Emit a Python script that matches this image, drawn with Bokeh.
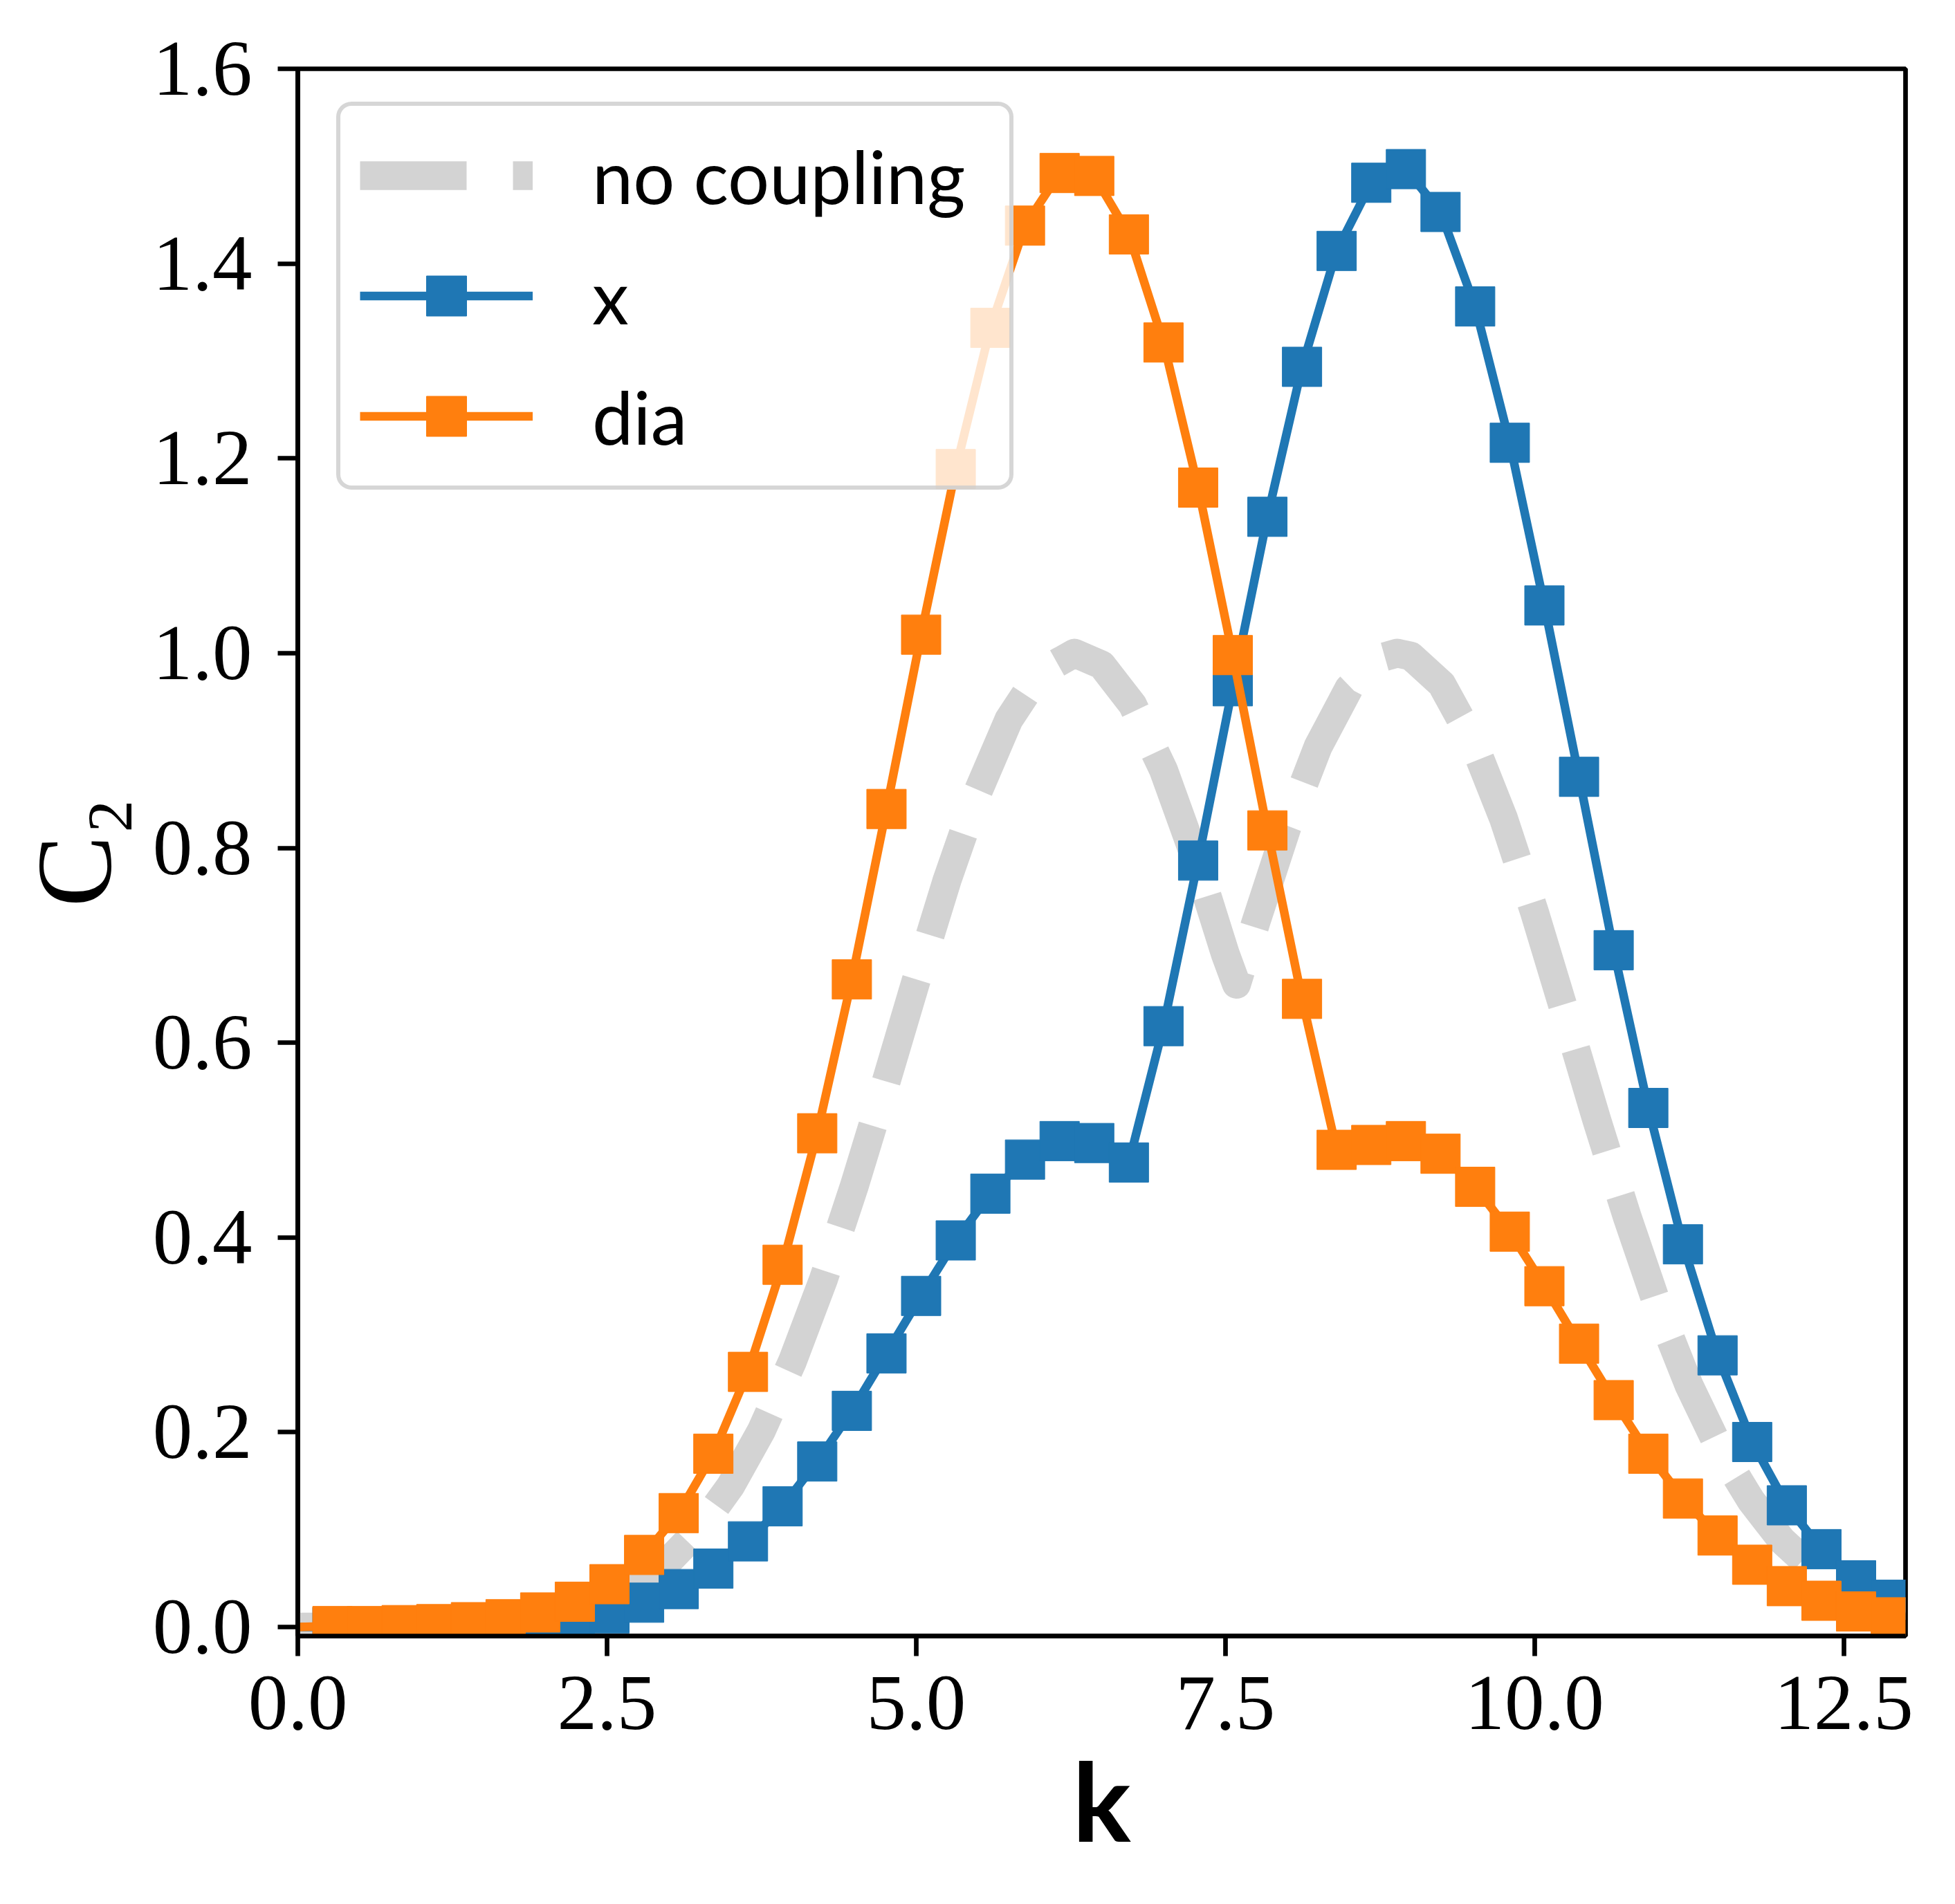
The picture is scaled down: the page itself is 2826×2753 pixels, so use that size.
import math
from bokeh.plotting import figure
from bokeh.models import Range1d, FixedTicker, Legend, LegendItem
from bokeh.embed import file_html
from bokeh.resources import INLINE

# ---------------- data ----------------
k = [0.0, 0.28, 0.56, 0.84, 1.12, 1.4, 1.68, 1.96, 2.24, 2.52, 2.8, 3.08,
     3.36, 3.64, 3.92, 4.2, 4.48, 4.76, 5.04, 5.32, 5.6, 5.88, 6.16, 6.44,
     6.72, 7.0, 7.28, 7.56, 7.84, 8.12, 8.4, 8.68, 8.96, 9.24, 9.52, 9.8,
     10.08, 10.36, 10.64, 10.92, 11.2, 11.48, 11.76, 12.04, 12.32, 12.6, 12.88]

x_vals = [0.0, 0.000, 0.000, 0.000, 0.001, 0.001, 0.002, 0.004, 0.008, 0.014,
          0.025, 0.039, 0.060, 0.088, 0.124, 0.170, 0.222, 0.281, 0.340, 0.397,
          0.445, 0.480, 0.499, 0.497, 0.477, 0.617, 0.787, 0.966, 1.140, 1.294,
          1.413, 1.483, 1.497, 1.453, 1.356, 1.216, 1.049, 0.873, 0.695, 0.533,
          0.393, 0.279, 0.190, 0.125, 0.080, 0.048, 0.028]

dia_vals = [0.0, 0.001, 0.001, 0.002, 0.003, 0.005, 0.008, 0.015, 0.026, 0.044,
            0.074, 0.117, 0.178, 0.262, 0.372, 0.507, 0.665, 0.840, 1.019, 1.189,
            1.334, 1.439, 1.493, 1.490, 1.430, 1.319, 1.170, 0.998, 0.818, 0.645,
            0.490, 0.495, 0.499, 0.486, 0.452, 0.406, 0.350, 0.291, 0.233, 0.178,
            0.132, 0.094, 0.064, 0.042, 0.027, 0.016, 0.010]

nc_k = [0.0, 0.5, 1.0, 1.5, 2.0, 2.25, 2.5, 2.75, 3.0, 3.25, 3.5, 3.75, 4.0,
        4.25, 4.5, 4.75, 5.0, 5.25, 5.5, 5.75, 6.0, 6.28, 6.5, 6.75, 7.0, 7.25,
        7.5, 7.59, 7.75, 8.0, 8.25, 8.5, 8.75, 8.89, 9.0, 9.25, 9.5, 9.75, 10.0,
        10.25, 10.5, 10.75, 11.0, 11.25, 11.5, 11.75, 12.0, 12.25, 12.5, 12.75, 13.0]
nc_vals = [0.000, 0.000, 0.001, 0.003, 0.010, 0.017, 0.028, 0.045, 0.068, 0.101,
           0.145, 0.202, 0.273, 0.357, 0.453, 0.557, 0.664, 0.767, 0.858, 0.932,
           0.980, 1.000, 0.988, 0.947, 0.880, 0.792, 0.691, 0.660, 0.725, 0.822,
           0.904, 0.964, 0.995, 1.000, 0.997, 0.968, 0.910, 0.830, 0.734, 0.629,
           0.522, 0.421, 0.328, 0.248, 0.182, 0.130, 0.089, 0.060, 0.039, 0.024, 0.015]

x_ticks = [0.0, 2.5, 5.0, 7.5, 10.0, 12.5]
x_tick_labels = ["0.0", "2.5", "5.0", "7.5", "10.0", "12.5"]
y_ticks = [0.0, 0.2, 0.4, 0.6, 0.8, 1.0, 1.2, 1.4, 1.6]
y_tick_labels = ["0.0", "0.2", "0.4", "0.6", "0.8", "1.0", "1.2", "1.4", "1.6"]

series_labels = ["no coupling", "x", "dia"]
x_label = "k"
y_label = "C\u2082"

# ---------------- figure ----------------
p = figure(width=2810, height=2737, output_backend="svg", toolbar_location=None,
           x_range=Range1d(0, 13), y_range=Range1d(-0.0092, 1.6),
           min_border_left=430, min_border_right=56, min_border_top=99,
           min_border_bottom=372)
p.grid.visible = False
p.background_fill_color = "white"
p.border_fill_color = "white"
p.outline_line_color = "black"
p.outline_line_width = 6.7

for ax in (p.xaxis[0], p.yaxis[0]):
    ax.axis_line_width = 6.7
    ax.axis_line_color = "black"
    ax.major_tick_line_width = 6.7
    ax.major_tick_line_color = "black"
    ax.major_tick_out = 29
    ax.major_tick_in = 0
    ax.minor_tick_out = 0
    ax.minor_tick_in = 0
    ax.major_label_text_font = "Liberation Serif"
    ax.major_label_text_font_size = "115px"
    ax.major_label_text_color = "black"
    ax.axis_label_text_color = "black"

p.xaxis.ticker = FixedTicker(ticks=x_ticks)
p.xaxis.major_label_overrides = {t: s for t, s in zip(x_ticks, x_tick_labels)}
p.yaxis.ticker = FixedTicker(ticks=y_ticks)
p.yaxis.major_label_overrides = {t: s for t, s in zip(y_ticks, y_tick_labels)}
p.xaxis.major_label_standoff = 30
p.yaxis.major_label_standoff = 37

p.xaxis.axis_label = x_label
p.xaxis.axis_label_text_font = "Lato"
p.xaxis.axis_label_text_font_style = "bold"
p.xaxis.axis_label_text_font_size = "158px"
p.xaxis.axis_label_standoff = 4

p.yaxis.axis_label = y_label
p.yaxis.axis_label_text_font = "Liberation Serif"
p.yaxis.axis_label_text_font_style = "normal"
p.yaxis.axis_label_text_font_size = "155px"
p.yaxis.axis_label_standoff = 25

BLUE = "#1f77b4"
ORANGE = "#ff7f0e"
GRAY = "#d3d3d3"

nc = p.line(nc_k, nc_vals, line_color=GRAY, line_width=41.7, line_dash="154 67",
            line_join="round")
bl = p.line(k, x_vals, line_color=BLUE, line_width=12.5, line_join="round")
bs = p.scatter(k[1:], x_vals[1:], marker="square", size=57, fill_color=BLUE,
               line_color=BLUE, line_width=1)
ol = p.line(k, dia_vals, line_color=ORANGE, line_width=12.5, line_join="round")
os_ = p.scatter(k[1:], dia_vals[1:], marker="square", size=57, fill_color=ORANGE,
                line_color=ORANGE, line_width=1)

legend = Legend(items=[LegendItem(label=series_labels[0], renderers=[nc]),
                       LegendItem(label=series_labels[1], renderers=[bl, bs]),
                       LegendItem(label=series_labels[2], renderers=[ol, os_])],
                location=(56, 1657), glyph_width=250, glyph_height=145,
                label_text_font="Lato", label_text_font_size="106px",
                label_text_color="black", label_width=575,
                padding=28, spacing=29, label_standoff=86, margin=0,
                border_line_color="#cccccc", border_line_alpha=0.8,
                border_line_width=6.7, background_fill_color="white",
                background_fill_alpha=0.8)
try:
    legend.border_radius = 22
except Exception:
    pass
p.add_layout(legend)

open("out.html", "w").write(file_html(p, INLINE))
